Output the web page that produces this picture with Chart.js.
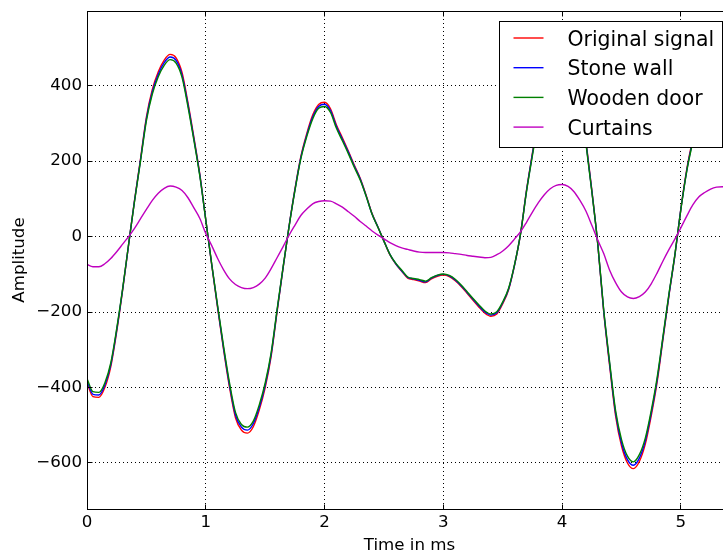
<!DOCTYPE html>
<html><head><meta charset="utf-8">
<script src="https://cdn.jsdelivr.net/npm/chart.js@4"></script>
<style>html,body{margin:0;padding:0;overflow:hidden;background:#fff}</style>
</head><body>
<canvas id="c" width="740" height="557"></canvas>
<script>
// ---- data (time in ms) ----
const times = [
 0,0.05,0.1,0.15,0.2,0.25,0.3,0.35,0.4,0.45,
 0.5,0.55,0.6,0.65,0.7,0.75,0.8,0.85,0.9,0.95,
 1,1.05,1.1,1.15,1.2,1.25,1.3,1.35,1.4,1.45,
 1.5,1.55,1.6,1.65,1.7,1.75,1.8,1.85,1.9,1.95,
 2,2.05,2.1,2.15,2.2,2.25,2.3,2.35,2.4,2.45,
 2.5,2.55,2.6,2.65,2.7,2.75,2.8,2.85,2.9,2.95,
 3,3.05,3.1,3.15,3.2,3.25,3.3,3.35,3.4,3.45,
 3.5,3.55,3.6,3.65,3.7,3.75,3.8,3.85,3.9,3.95,
 4,4.05,4.1,4.15,4.2,4.25,4.3,4.35,4.4,4.45,
 4.5,4.55,4.6,4.65,4.7,4.75,4.8,4.85,4.9,4.95,
 5,5.05,5.1,5.15,5.2,5.25,5.3,5.35,5.4,5.45
];
const originalSignal = [
 -388,-424,-426,-400,-345,-252,-142,-22,96,205,
 317,390,437,468,483,474,435,355,263,165,
 45,-75,-190,-300,-400,-480,-513,-521,-504,-460,
 -400,-318,-200,-85,25,125,212,273,322,350,
 356,339,296,262,227,190,155,110,61,25,
 -12,-48,-73,-92,-110,-114,-118,-122,-112,-105,
 -102,-106,-117,-132,-150,-169,-187,-203,-211,-205,
 -178,-140,-75,8,123,222,320,420,500,545,
 550,520,460,370,255,123,-20,-200,-343,-475,
 -555,-600,-615,-596,-550,-475,-385,-270,-155,-48,
 75,180,260,340,410,470,500,510,500,475
];
const stoneWall = [
 -382,-418,-420,-394,-340,-248,-140,-22,95,202,
 312,384,430,461,476,467,428,350,259,163,
 44,-74,-187,-296,-394,-473,-505,-513,-496,-453,
 -394,-313,-197,-84,25,123,209,269,317,345,
 351,334,292,258,224,187,153,108,60,25,
 -12,-47,-72,-91,-108,-112,-116,-120,-110,-103,
 -100,-104,-115,-130,-148,-166,-184,-200,-208,-202,
 -175,-138,-74,8,121,219,315,414,493,537,
 542,512,453,364,251,121,-20,-197,-338,-468,
 -547,-591,-606,-587,-542,-468,-379,-266,-153,-47,
 74,177,256,335,404,463,493,502,493,468
];
const woodenDoor = [
 -376,-411,-413,-388,-335,-244,-138,-21,93,199,
 307,378,424,454,469,460,422,344,255,160,
 44,-73,-184,-291,-388,-466,-498,-505,-489,-446,
 -388,-308,-194,-82,24,121,206,265,312,340,
 345,329,287,254,220,184,150,107,59,24,
 -12,-47,-71,-89,-107,-111,-114,-118,-109,-102,
 -99,-103,-113,-128,-146,-164,-181,-197,-205,-199,
 -173,-136,-73,8,119,215,310,407,485,529,
 534,504,446,359,247,119,-19,-194,-333,-461,
 -538,-582,-597,-578,-534,-461,-373,-262,-150,-46,
 73,175,252,330,398,456,485,495,485,461
];
const curtains = [
 -74,-80,-80,-72,-58,-40,-20,0,22,47,
 72,96,115,128,134,131,122,103,76,48,
 8,-24,-58,-88,-112,-127,-135,-138,-135,-126,
 -110,-85,-56,-27,3,30,56,73,87,93,
 95,94,87,78,66,54,40,28,15,4,
 -6,-16,-24,-30,-34,-38,-41,-42,-42,-42,
 -42,-43,-45,-47,-50,-52,-54,-56,-55,-48,
 -38,-24,-6,13,38,65,90,111,127,136,
 138,133,119,96,68,30,-9,-45,-89,-122,
 -147,-160,-164,-159,-147,-125,-96,-64,-34,-6,
 24,55,84,105,117,126,131,132,130,126
];
const seriesNames = ['Original signal','Stone wall','Wooden door','Curtains'];
const xTickValues = [0,1,2,3,4,5];
const yTickValues = [-600,-400,-200,0,200,400];
const xRange = [0, 5.43];
const yRange = [-722, 598];

// ---- styling ----
const seriesColors = ['#ff0000','#0000ff','#008000','#bf00bf'];
const FONT = "'DejaVu Sans', sans-serif";
Chart.defaults.font.family = FONT;
Chart.defaults.font.size = 16.67;
Chart.defaults.color = '#000';

const seriesData = [originalSignal, stoneWall, woodenDoor, curtains];
const datasets = seriesData.map((arr, i) => ({
  label: seriesNames[i],
  data: times.map((t, j) => ({x: t, y: arr[j]})),
  borderColor: seriesColors[i],
  backgroundColor: seriesColors[i],
  borderWidth: 1.4,
  pointRadius: 0,
  cubicInterpolationMode: 'monotone',
  fill: false,
  order: 4 - i
}));

const al = p => Math.round(p - 0.5) + 0.5;

const framePlugin = {
  id: 'frame',
  afterDatasetsDraw(chart) {
    const {ctx, chartArea: a, scales} = chart;
    ctx.save();
    ctx.setLineDash([]);
    ctx.strokeStyle = '#000';
    ctx.lineWidth = 1;
    const L = al(a.left), R = al(a.right), T = al(a.top), B = al(a.bottom);
    ctx.strokeRect(L, T, R - L, B - T);
    ctx.beginPath();
    xTickValues.forEach(v => {
      const px = al(scales.x.getPixelForValue(v));
      ctx.moveTo(px, B); ctx.lineTo(px, B - 5);
      ctx.moveTo(px, T); ctx.lineTo(px, T + 5);
    });
    yTickValues.forEach(v => {
      const py = al(scales.y.getPixelForValue(v));
      ctx.moveTo(L, py); ctx.lineTo(L + 5, py);
      ctx.moveTo(R, py); ctx.lineTo(R - 5, py);
    });
    ctx.stroke();
    ctx.restore();
  }
};

const boxLegend = {
  id: 'boxLegend',
  afterDraw(chart) {
    const {ctx, chartArea: a} = chart;
    const w = 223, h = 126;
    const right = Math.round(a.right - 10) + 0.5, top = Math.round(a.top + 10) + 0.5;
    const left = right - w;
    ctx.save();
    ctx.setLineDash([]);
    ctx.fillStyle = '#fff';
    ctx.fillRect(left, top, w, h);
    ctx.strokeStyle = '#000';
    ctx.lineWidth = 1;
    ctx.strokeRect(left, top, w, h);
    ctx.font = "20.4px " + FONT;
    ctx.textBaseline = 'alphabetic';
    ctx.textAlign = 'left';
    chart.data.datasets.forEach((ds, i) => {
      const cy = top + 16.5 + i * 29.7;
      ctx.strokeStyle = ds.borderColor;
      ctx.lineWidth = 1.4;
      ctx.beginPath();
      ctx.moveTo(left + 14, cy); ctx.lineTo(left + 44, cy);
      ctx.stroke();
      ctx.fillStyle = '#000';
      ctx.fillText(ds.label, left + 68, cy + 7.5);
    });
    ctx.restore();
  }
};

new Chart(document.getElementById('c'), {
  type: 'line',
  data: {datasets},
  options: {
    responsive: false,
    animation: false,
    events: [],
    layout: {padding: {left: 0, top: 11, right: 8, bottom: 0}},
    plugins: {legend: {display: false}, tooltip: {enabled: false}},
    scales: {
      x: {
        type: 'linear',
        min: xRange[0], max: xRange[1],
        afterBuildTicks: s => { s.ticks = xTickValues.map(v => ({value: v})); },
        afterFit: s => { s.height = 48; s.paddingLeft = 0; s.paddingRight = 0; },
        ticks: {padding: 4, color: '#000', font: {size: 16.67}, callback: v => String(v)},
        grid: {color: '#000', lineWidth: 1, drawTicks: false},
        border: {display: false, dash: [1, 3]},
        title: {display: true, text: 'Time in ms', color: '#000', font: {size: 16.67}, padding: {top: 0, bottom: 1}}
      },
      y: {
        type: 'linear',
        min: yRange[0], max: yRange[1],
        afterBuildTicks: s => { s.ticks = yTickValues.map(v => ({value: v})); },
        afterFit: s => { s.width = 87; s.paddingTop = 0; s.paddingBottom = 0; },
        ticks: {padding: 5, color: '#000', font: {size: 16.67},
          callback: v => v < 0 ? '\u2212' + Math.abs(v) : String(v)},
        grid: {color: '#000', lineWidth: 1, drawTicks: false},
        border: {display: false, dash: [1, 3]},
        title: {display: true, text: 'Amplitude', color: '#000', font: {size: 16.67}, padding: {top: 10, bottom: 0}}
      }
    }
  },
  plugins: [framePlugin, boxLegend]
});
</script>
</body></html>
